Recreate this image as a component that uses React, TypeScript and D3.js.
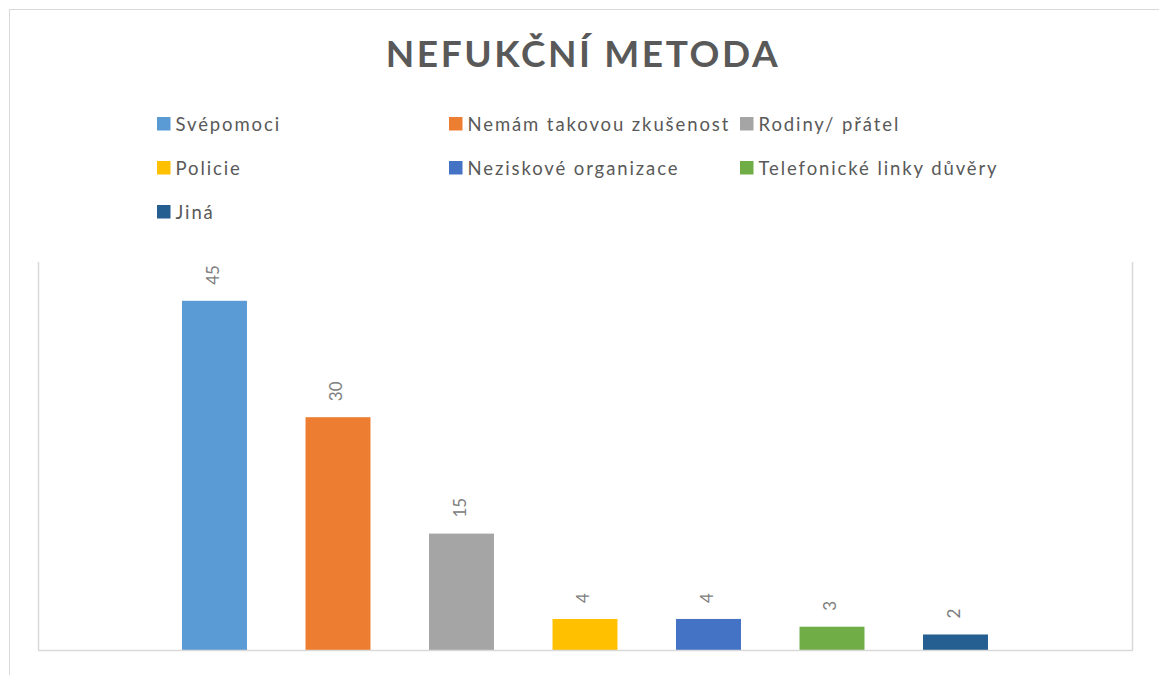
import React from "react";
import * as d3 from "d3";

const title = "NEFUKČNÍ METODA";
const seriesNames = [
  "Svépomoci",
  "Nemám takovou zkušenost",
  "Rodiny/ přátel",
  "Policie",
  "Neziskové organizace",
  "Telefonické linky důvěry",
  "Jiná",
];
const seriesValues = [45, 30, 15, 4, 4, 3, 2];
const seriesColors = ["#5B9BD5", "#ED7D31", "#A5A5A5", "#FFC000", "#4472C4", "#70AD47", "#255E91"];
const yDomain = [0, 50];

const W = 1159;
const H = 675;
const plot = { left: 38, right: 1132, top: 262, bottom: 650 };
const FONT = "Lato, 'Open Sans', sans-serif";

export default function App() {
  const y = d3.scaleLinear().domain(yDomain).range([plot.bottom, plot.top]);
  const x = d3
    .scaleBand<string>()
    .domain(seriesNames)
    .range([152.75, 1017.25])
    .paddingInner(0.474)
    .paddingOuter(0.237);

  const legendCols = [157, 449, 740];
  const legendRowY = [117, 161, 205];

  return (
    <svg
      width={W}
      height={H}
      style={{ position: "absolute", left: 0, top: 0, background: "#fff" }}
      fontFamily={FONT}
    >
      <rect x={0} y={0} width={W} height={H} fill="#fff" />
      <rect x={9.5} y={9.5} width={1170} height={700} fill="#fff" stroke="#d9d9d9" strokeWidth={1} />

      <text
        x={583}
        y={67}
        textAnchor="middle"
        fontSize={37}
        fontWeight={700}
        letterSpacing={2.6}
        fill="#595959"
      >
        {title}
      </text>

      {seriesNames.map((name, i) => {
        const col = i % 3;
        const row = Math.floor(i / 3);
        const lx = legendCols[col];
        const ly = legendRowY[row];
        return (
          <g key={name}>
            <rect x={lx} y={ly} width={13.5} height={13.5} fill={seriesColors[i]} />
            <text x={lx + 18.5} y={ly + 13.5} fontSize={18.5} letterSpacing={1.9} fill="#595959">
              {name}
            </text>
          </g>
        );
      })}

      <line x1={plot.left + 0.5} x2={plot.left + 0.5} y1={plot.top} y2={plot.bottom} stroke="#d9d9d9" strokeWidth={1.5} />
      <line x1={plot.right + 0.5} x2={plot.right + 0.5} y1={plot.top} y2={plot.bottom} stroke="#d9d9d9" strokeWidth={1.5} />

      {seriesNames.map((name, i) => {
        const bx = x(name) as number;
        const bw = x.bandwidth();
        const top = y(seriesValues[i]);
        const cx = bx + bw / 2;
        const ly = top - 16;
        return (
          <g key={name}>
            <rect x={bx} y={top} width={bw} height={y(0) - top} fill={seriesColors[i]} />
            <text
              transform={`translate(${cx},${ly}) rotate(-90)`}
              textAnchor="start"
              dominantBaseline="middle"
              fontSize={17}
              fill="#808080"
            >
              {seriesValues[i]}
            </text>
          </g>
        );
      })}

      <line x1={plot.left} x2={plot.right + 1} y1={plot.bottom + 0.5} y2={plot.bottom + 0.5} stroke="#d9d9d9" strokeWidth={1.5} />
    </svg>
  );
}
